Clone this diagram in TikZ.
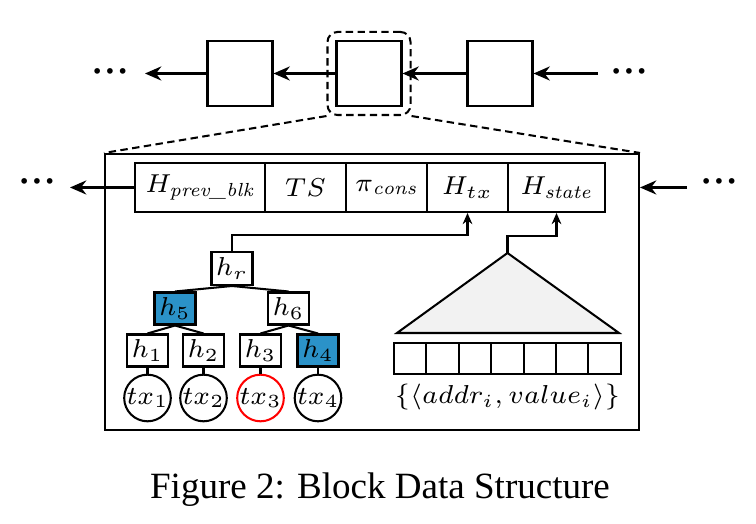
\documentclass[tikz,border=0pt]{standalone}
\usepackage{amsmath}
\usepackage{fontspec}
\newfontfamily\capfont{Liberation Serif}
\usetikzlibrary{arrows.meta,fit}
\definecolor{hblue}{RGB}{43,146,200}
\newcommand{\bdots}{\textbullet\kern-0.37em\textbullet\kern-0.37em\textbullet}

\begin{document}
\begin{tikzpicture}[x=0.27pt,y=-0.27pt,line width=0.55pt,
        font=\fontsize{7.3}{9}\selectfont,
        blk/.style={draw,minimum width=17.55pt,minimum height=17.55pt,inner sep=0pt},
        cell/.style={draw,minimum height=13.23pt,inner sep=0pt},
        hnode/.style={draw,fill=white,minimum width=11.07pt,minimum height=8.64pt,inner sep=0pt},
        txnode/.style={draw,circle,minimum size=10.8pt,inner sep=0pt},
        kv/.style={draw,minimum width=8.75pt,minimum height=8.37pt,inner sep=0pt},
        ellip/.style={font=\fontsize{5.2}{6}\selectfont,inner sep=0pt},
        dashpat/.style={dash pattern=on 2pt off 1.2pt},
        chainarrow/.style={-{Stealth[length=4.4pt,width=3.8pt]},line width=0.65pt},
        uparrow/.style={-{Stealth[length=3pt,width=2.6pt]}}]
        \useasboundingbox (0,0) rectangle (756,524);

        % chain of blocks
        \node[blk] (b1) at (240,73.5) {};
        \node[blk] (b2) at (369,73.5) {};
        \node[blk] (b3) at (500,73.5) {};
        \node[draw,dashpat,rounded corners=2.7pt,fit=(b2),inner sep=2.16pt] (zoom) {};
        \node[ellip] (dl) at (110,72) {\bdots};
        \node[ellip] (dr) at (629,72) {\bdots};
        \coordinate (al) at (145,73.5);
        \coordinate (ar) at (598,73.5);
        \draw[chainarrow] (b1.west) -- (al);
        \draw[chainarrow] (b2.west) -- (b1.east);
        \draw[chainarrow] (b3.west) -- (b2.east);
        \draw[chainarrow] (ar) -- (b3.east);

        % block content
        \node[draw,minimum width=144.18pt,minimum height=74.52pt,inner sep=0pt] (blkbig) at (372,292) {};
        \draw[dashpat] (zoom.south west) -- (blkbig.north west);
        \draw[dashpat] (zoom.south east) -- (blkbig.north east);

        % header
        \node[cell,minimum width=35.1pt] (hprev) at (200,187.5) {$H_{\textit{prev\_blk}}$};
        \node[cell,minimum width=21.87pt] (ts) at (305.5,187.5) {$TS$};
        \node[cell,minimum width=21.87pt] (pi) at (386.5,187.5) {$\pi_{\mathit{cons}}$};
        \node[cell,minimum width=21.87pt] (htx) at (467.5,187.5) {$H_{tx}$};
        \node[cell,minimum width=26.19pt] (hstate) at (556.5,187.5) {$H_{\mathit{state}}$};
        \node[ellip] (hdl) at (37,182) {\bdots};
        \node[ellip] (hdr) at (719,182) {\bdots};
        \coordinate (hal) at (70,187.5);
        \coordinate (har) at (687,187.5);
        \draw[chainarrow] (hprev.west) -- (hal);
        \draw[chainarrow] (har) -- (blkbig.east |- har);

        % merkle tree of transactions
        \node[hnode,minimum height=8.9pt] (hr) at (232,268.5) {$h_r$};
        \node[hnode,fill=hblue] (h5) at (175,308.5) {$h_5$};
        \node[hnode] (h6) at (288.5,308.5) {$h_6$};
        \node[hnode] (h1) at (147.5,350.5) {$h_1$};
        \node[hnode] (h2) at (203.5,350.5) {$h_2$};
        \node[hnode] (h3) at (260.5,350.5) {$h_3$};
        \node[hnode,fill=hblue] (h4) at (318,350.5) {$h_4$};
        \node[txnode] (tx1) at (147.5,398) {$tx_1$};
        \node[txnode] (tx2) at (203.5,398) {$tx_2$};
        \node[txnode,draw=red] (tx3) at (260.5,398) {$tx_3$};
        \node[txnode] (tx4) at (318,398) {$tx_4$};
        \foreach \p/\c in {hr/h5,hr/h6,h5/h1,h5/h2,h6/h3,h6/h4,h1/tx1,h2/tx2,h3/tx3,h4/tx4}
            \draw (\p.south) -- (\c.north);
        \draw[uparrow] (hr.north) -- ++(0,-16) -| (htx.south);

        % state trie
        \coordinate (apex) at (507.5,253);
        \coordinate (tl) at (397,333);
        \coordinate (tr) at (619,333);
        \draw[fill=gray!10] (tl) -- (apex) -- (tr) -- cycle;
        \draw[uparrow] (apex) -- ++(0,-17) -| (hstate.south);
        \foreach \i in {0,...,6}
            \node[kv] (kv\i) at ({410.2+32.4*\i},358.5) {};
        \node (kvlabel) at (507.5,397) {$\{\langle addr_i, value_i\rangle\}$};

        \node[font=\capfont\fontsize{10}{12}\selectfont] (cap) at (380,490) {Figure 2: Block Data Structure};
\end{tikzpicture}
\end{document}
